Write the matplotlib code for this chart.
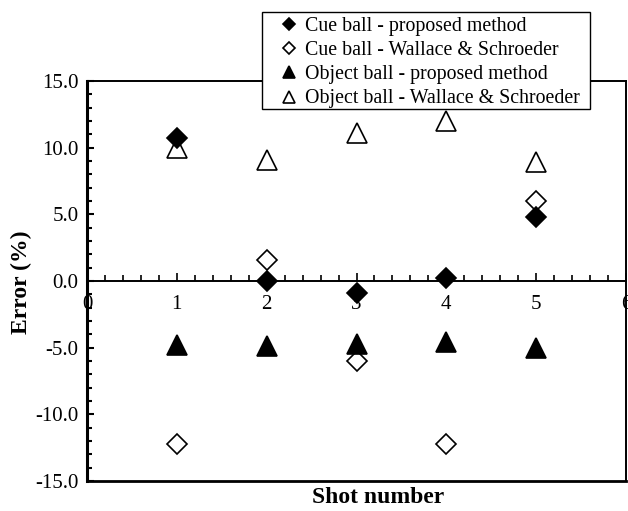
import matplotlib
matplotlib.use("Agg")
import matplotlib.pyplot as plt
from matplotlib.ticker import MultipleLocator, FormatStrFormatter
from matplotlib.patches import Rectangle

plt.rcParams['font.family'] = ['Liberation Serif', 'DejaVu Serif']
plt.rcParams['axes.unicode_minus'] = False

shots = [1, 2, 3, 4, 5]
cue_proposed = [10.7, 0.0, -0.9, 0.2, 4.8]
cue_ws = [-12.2, 1.6, -6.0, -12.2, 6.0]
obj_proposed = [-4.8, -4.9, -4.7, -4.55, -5.0]
obj_ws = [10.0, 9.1, 11.1, 12.0, 8.9]

labels = ["Cue ball - proposed method",
          "Cue ball - Wallace & Schroeder",
          "Object ball - proposed method",
          "Object ball - Wallace & Schroeder"]

W, H = 628, 511
fig = plt.figure(figsize=(W / 100, H / 100), dpi=100)
L, R, T, B = 87, 626, 81, 481
ax = fig.add_axes([L / W, (H - B) / H, (R - L) / W, (B - T) / H])

ms_d = 9.8
ms_t = 14
ew = 1.2
h1, = ax.plot(shots, cue_proposed, ls='none', marker='D', ms=ms_d, mfc='black', mec='black', mew=ew, label=labels[0], zorder=5)
h2, = ax.plot(shots, cue_ws, ls='none', marker='D', ms=ms_d, mfc='white', mec='black', mew=ew, label=labels[1], zorder=4)
h3, = ax.plot(shots, obj_proposed, ls='none', marker='^', ms=ms_t, mfc='black', mec='black', mew=ew, label=labels[2], zorder=4)
h4, = ax.plot(shots, obj_ws, ls='none', marker='^', ms=ms_t, mfc='white', mec='black', mew=ew, label=labels[3], zorder=3)

ax.set_xlim(0, 6)
ax.set_ylim(-15, 15)

ax.spines['bottom'].set_position(('data', 0))
ax.spines['bottom'].set_linewidth(1.4)
ax.spines['left'].set_linewidth(2.2)
ax.spines['top'].set_linewidth(1.4)
ax.spines['right'].set_linewidth(1.4)
ax.axhline(-15, color='black', lw=2.0, clip_on=False)

ax.xaxis.set_major_locator(MultipleLocator(1))
ax.xaxis.set_minor_locator(MultipleLocator(0.2))
ax.yaxis.set_major_locator(MultipleLocator(5))
ax.yaxis.set_minor_locator(MultipleLocator(1))
ax.yaxis.set_major_formatter(FormatStrFormatter('%.1f'))

ax.tick_params(axis='x', which='major', direction='in', length=6, width=1.2, pad=10, labelsize=15, top=False)
ax.tick_params(axis='x', which='minor', direction='in', length=4, width=1.2, top=False)
ax.tick_params(axis='y', which='major', direction='in', length=5, width=1.5, pad=6, labelsize=15, right=False)
ax.tick_params(axis='y', which='minor', direction='in', length=3.5, width=1.5, right=False)
for lab in ax.get_xticklabels():
    lab.set_clip_on(False)

fig.text(21 / W, 1 - 282 / H, "Error (%)", fontsize=17, fontweight='bold',
         rotation=90, ha='center', va='center')
fig.text(378 / W, 1 - 497 / H, "Shot number", fontsize=17, fontweight='bold',
         ha='center', va='center')

# legend frame
fig.patches.append(Rectangle((262 / W, 1 - 109 / H), (590 - 262) / W, (109 - 12) / H,
                             transform=fig.transFigure, facecolor='white',
                             edgecolor='black', lw=1.0, zorder=10))
leg = fig.legend(handles=[h1, h2, h3, h4], loc='upper left',
                 bbox_to_anchor=(279 / W, 1 - 17 / H),
                 fontsize=14.3, frameon=False, borderpad=0, labelspacing=0.26,
                 handlelength=1.0, handletextpad=0.3, markerscale=0.6,
                 borderaxespad=0)
leg.set_zorder(11)

fig.savefig("out.png", dpi=100)
